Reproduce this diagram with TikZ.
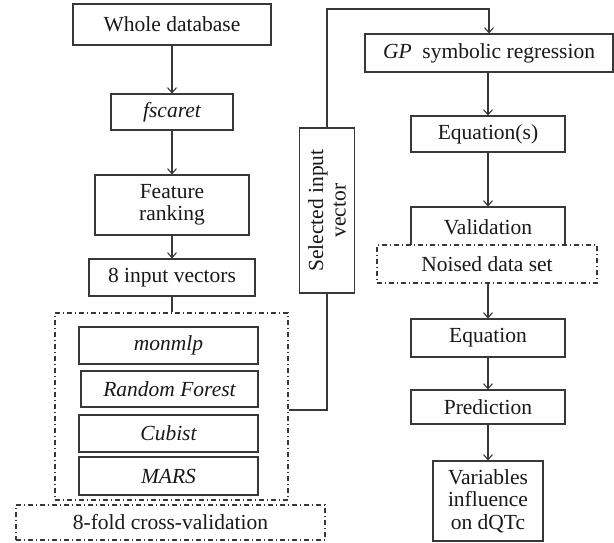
\documentclass[tikz,border=0pt]{standalone}
\usepackage{fontspec}
\setmainfont{Liberation Serif}
\usetikzlibrary{arrows.meta}
\begin{document}
\begin{tikzpicture}[x=1pt,y=-1pt,
  line width=1.1pt,
  every node/.style={font=\fontsize{21.5}{22.5}\selectfont, text=black!90, inner sep=0pt, align=center},
  box/.style={draw=black!78, fill=white, rectangle},
  dbox/.style={draw=black!78, rectangle, dash pattern=on 5pt off 3pt on 1pt off 3pt},
  conn/.style={draw=black!78},
  arr/.style={conn, -{Straight Barb[length=5pt,width=9pt]}}]
\useasboundingbox (0,0) rectangle (614,542);

% left column
\node[box, minimum width=198pt, minimum height=41pt] (whole) at (172,24.5) {Whole database};
\node[box, minimum width=122pt, minimum height=36pt] (fscaret) at (172,112) {\itshape fscaret};
\node[box, minimum width=154pt, minimum height=60pt] (feature) at (172,205) {Feature\\ranking};
\node[box, minimum width=166pt, minimum height=37pt] (input) at (172,277.5) {8 input vectors};
\node[dbox, minimum width=233pt, minimum height=187pt] (models) at (171.5,406.5) {};
\node[box, minimum width=179pt, minimum height=37pt] (monmlp) at (168.5,345.5) {\itshape monmlp};
\node[box, minimum width=177pt, minimum height=36pt] (rf) at (169.5,389) {\itshape Random Forest};
\node[box, minimum width=179pt, minimum height=37pt] (cubist) at (168.5,433.5) {\itshape Cubist};
\node[box, minimum width=179pt, minimum height=38pt] (mars) at (168.5,476) {\itshape MARS};
\node[dbox, minimum width=309pt, minimum height=35pt] (cv) at (170.5,522.5) {8-fold cross-validation};

% selected input vector
\node[box, rotate=90, minimum width=165pt, minimum height=55pt] (sel) at (327,210.5) {Selected input\\vector};
\coordinate (top) at (327,9);

% right column
\node[box, minimum width=248pt, minimum height=38pt] (gp) at (489,53) {\itshape GP\upshape\ \ symbolic regression};
\node[box, minimum width=154pt, minimum height=36pt] (eqs) at (488,134) {Equation(s)};
\node[box, minimum width=154pt, minimum height=40pt] (valid) at (488,227) {Validation};
\node[dbox, fill=white, minimum width=220pt, minimum height=38pt] (noised) at (487,264) {Noised data set};
\node[box, minimum width=154pt, minimum height=38pt] (eq) at (488,338) {Equation};
\node[box, minimum width=154pt, minimum height=34pt] (pred) at (488,407) {Prediction};
\node[box, minimum width=110pt, minimum height=80pt] (vars) at (488,501) {Variables\\influence\\on dQTc};

% connectors
\draw[arr] (whole) -- (fscaret);
\draw[arr] (fscaret) -- (feature);
\draw[arr] (feature) -- (input);
\draw[conn] (input.south) -- (input.south |- models.north);
\draw[conn] (models.east |- 0,410) -| (sel.west);
\draw[arr] (sel.east) -- (top) -| (gp.north);
\draw[arr] (gp.south -| eqs) -- (eqs);
\draw[arr] (eqs) -- (valid);
\draw[arr] (noised.south -| eq) -- (eq);
\draw[arr] (eq) -- (pred);
\draw[arr] (pred) -- (vars);
\end{tikzpicture}
\end{document}
